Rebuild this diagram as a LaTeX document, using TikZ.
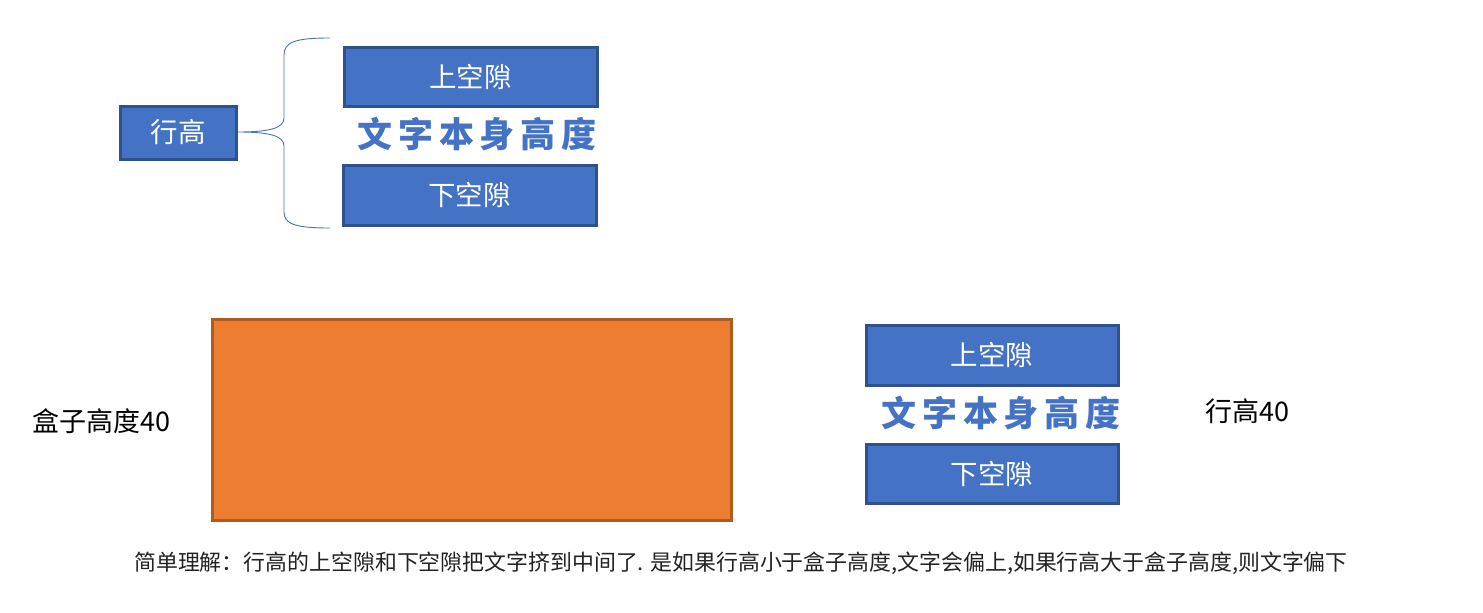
\documentclass[tikz,border=0pt]{standalone}
\usepackage{fontspec}
\newfontfamily\cjk{Noto Sans CJK SC}
\newfontfamily\cjkbold[LetterSpace=17]{Noto Sans CJK SC Black}
\definecolor{boxblue}{HTML}{4472C4}
\definecolor{boxedge}{HTML}{2F528F}
\definecolor{orangefill}{HTML}{ED7D31}
\definecolor{orangeedge}{HTML}{AE5A21}
\definecolor{captiongray}{HTML}{222222}
\begin{document}
\begin{tikzpicture}[x=1pt,y=-1pt,
  bluebox/.style={draw=boxedge,fill=boxblue,line width=3pt,text=white,font=\cjk\fontsize{27.5}{32}\selectfont},
  bodytext/.style={text=boxblue,font=\cjkbold\fontsize{35}{38}\selectfont},
  plaintext/.style={text=black,font=\cjk\fontsize{27}{30}\selectfont},
  bracestyle/.style={draw=boxblue,line width=0.9pt}]
\useasboundingbox (0,0) rectangle (1483,613);
% top diagram
\draw[bluebox] (120,106) rectangle (236,159) node[midway] (lh) {行高};
\draw[bluebox] (344,47) rectangle (597,106) node[midway] (up1) {上空隙};
\node[bodytext] (txt1) at (477,134) {文字本身高度};
\draw[bluebox] (343,165) rectangle (596,225) node[midway] (dn1) {下空隙};
\coordinate (btop) at (330,38);
\coordinate (bbot) at (330,228);
\coordinate (btip) at (238,132);
\draw[bracestyle] (btop) .. controls (295,38) and (284,42) .. (284,55)
  -- (284,118) .. controls (284,128) and (270,132) .. (btip)
  .. controls (270,132) and (284,136) .. (284,146)
  -- (284,212) .. controls (284,224) and (295,228) .. (bbot);
% bottom diagram
\draw[draw=orangeedge,fill=orangefill,line width=3pt] (212,319) rectangle (731,520);
\node[plaintext,anchor=west] (boxh) at (29,421) {盒子高度40};
\draw[bluebox] (866,325) rectangle (1118,385) node[midway] (up2) {上空隙};
\node[bodytext] (txt2) at (1001,413) {文字本身高度};
\draw[bluebox] (866,444) rectangle (1118,503) node[midway] (dn2) {下空隙};
\node[plaintext,anchor=west] (lh40) at (1202,411) {行高40};
\node[text=captiongray,font=\cjk\fontsize{21.9}{26}\selectfont] (cap) at (741,563) {简单理解：行高的上空隙和下空隙把文字挤到中间了. 是如果行高小于盒子高度,文字会偏上,如果行高大于盒子高度,则文字偏下};
\end{tikzpicture}
\end{document}
